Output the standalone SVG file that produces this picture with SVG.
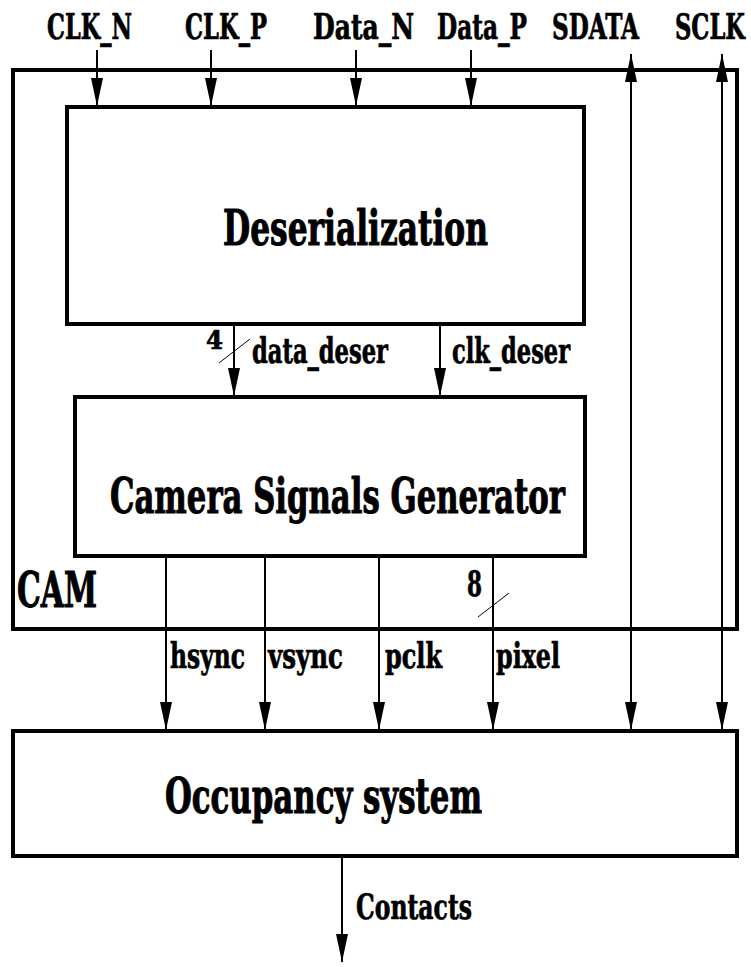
<svg xmlns="http://www.w3.org/2000/svg" width="751" height="967" viewBox="0 0 751 967">
<style>
.box{fill:#fff;stroke:#000;stroke-width:4;stroke-linejoin:miter}
.camb{fill:none;stroke:#000;stroke-width:4}
.w{stroke:#000;stroke-width:2;fill:none}
.bus{stroke:#000;stroke-width:1;fill:none}
text{font-family:"DejaVu Serif Condensed","DejaVu Serif","Liberation Serif",serif;font-weight:bold;fill:#000;stroke:#000;stroke-width:0.7;stroke-linejoin:round}
.lbl{font-size:36px}
.ttl{font-size:48px;stroke-width:1}
</style>
<defs>
<marker id="ah" markerUnits="userSpaceOnUse" markerWidth="28" markerHeight="12" refX="28" refY="6" orient="auto-start-reverse">
<path d="M0,0 L28,6 L0,12 Z" fill="#000"/>
</marker>
</defs>
<rect width="751" height="967" fill="#fff"/>
<g id="cam">
<rect class="camb" x="13" y="70" width="724" height="559"/>
<text class="ttl" x="17" y="607" textLength="80" lengthAdjust="spacingAndGlyphs">CAM</text>
</g>
<g id="deserialization">
<rect class="box" x="67" y="107" width="517" height="217"/>
<text class="ttl" x="223" y="245" textLength="265" lengthAdjust="spacingAndGlyphs">Deserialization</text>
</g>
<g id="camera-signals-generator">
<rect class="box" x="75" y="397" width="510" height="159"/>
<text class="ttl" x="110" y="513" textLength="455" lengthAdjust="spacingAndGlyphs">Camera Signals Generator</text>
</g>
<g id="occupancy-system">
<rect class="box" x="13" y="731" width="724" height="125"/>
<text class="ttl" x="165" y="813" textLength="317" lengthAdjust="spacingAndGlyphs">Occupancy system</text>
</g>
<g id="connectors">
<line class="w" x1="97" y1="50" x2="97" y2="106" marker-end="url(#ah)"/>
<line class="w" x1="211" y1="50" x2="211" y2="106" marker-end="url(#ah)"/>
<line class="w" x1="356" y1="50" x2="356" y2="106" marker-end="url(#ah)"/>
<line class="w" x1="471" y1="50" x2="471" y2="106" marker-end="url(#ah)"/>
<line class="w" x1="631" y1="54" x2="631" y2="730" marker-start="url(#ah)" marker-end="url(#ah)"/>
<line class="w" x1="722" y1="54" x2="722" y2="730" marker-start="url(#ah)" marker-end="url(#ah)"/>
<line class="w" x1="234" y1="324" x2="234" y2="396" marker-end="url(#ah)"/>
<line class="bus" x1="219" y1="363" x2="250" y2="339"/>
<line class="w" x1="440" y1="324" x2="440" y2="396" marker-end="url(#ah)"/>
<line class="w" x1="166" y1="556" x2="166" y2="730" marker-end="url(#ah)"/>
<line class="w" x1="265" y1="556" x2="265" y2="730" marker-end="url(#ah)"/>
<line class="w" x1="379" y1="556" x2="379" y2="730" marker-end="url(#ah)"/>
<line class="w" x1="493" y1="556" x2="493" y2="730" marker-end="url(#ah)"/>
<line class="bus" x1="478" y1="617" x2="509" y2="593"/>
<line class="w" x1="342" y1="856" x2="342" y2="962" marker-end="url(#ah)"/>
</g>
<g id="labels">
<text class="lbl" x="47" y="39" textLength="85" lengthAdjust="spacingAndGlyphs">CLK_N</text>
<text class="lbl" x="185" y="39" textLength="82" lengthAdjust="spacingAndGlyphs">CLK_P</text>
<text class="lbl" x="313" y="39" textLength="101" lengthAdjust="spacingAndGlyphs">Data_N</text>
<text class="lbl" x="437" y="39" textLength="90" lengthAdjust="spacingAndGlyphs">Data_P</text>
<text class="lbl" x="552" y="39" textLength="87" lengthAdjust="spacingAndGlyphs">SDATA</text>
<text class="lbl" x="675" y="39" textLength="70" lengthAdjust="spacingAndGlyphs">SCLK</text>
<text x="206" y="349" font-size="26" textLength="17" lengthAdjust="spacingAndGlyphs">4</text>
<text class="lbl" x="252" y="363" textLength="136" lengthAdjust="spacingAndGlyphs">data_deser</text>
<text class="lbl" x="452" y="363" textLength="118" lengthAdjust="spacingAndGlyphs">clk_deser</text>
<text class="lbl" x="467" y="596" textLength="15" lengthAdjust="spacingAndGlyphs">8</text>
<text class="lbl" x="170" y="668" textLength="75" lengthAdjust="spacingAndGlyphs">hsync</text>
<text class="lbl" x="268" y="668" textLength="75" lengthAdjust="spacingAndGlyphs">vsync</text>
<text class="lbl" x="385" y="668" textLength="57" lengthAdjust="spacingAndGlyphs">pclk</text>
<text class="lbl" x="496" y="668" textLength="64" lengthAdjust="spacingAndGlyphs">pixel</text>
<text class="lbl" x="356" y="919" textLength="116" lengthAdjust="spacingAndGlyphs">Contacts</text>
</g>
</svg>
